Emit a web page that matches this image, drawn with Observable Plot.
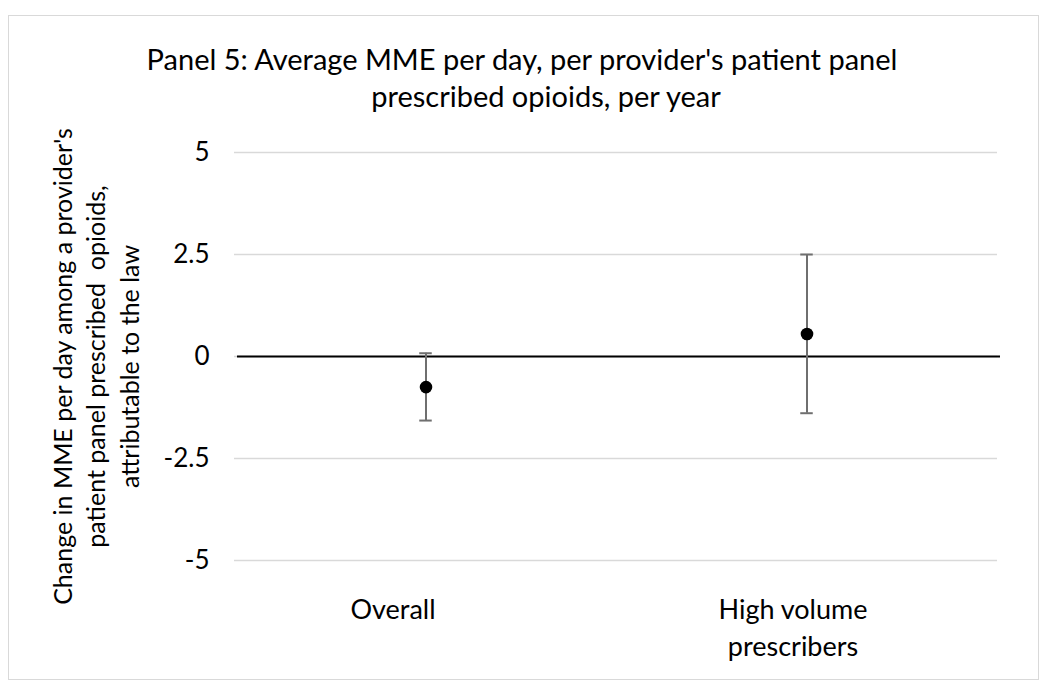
<!DOCTYPE html>
<html>
<head>
<meta charset="utf-8">
<script src="https://cdn.jsdelivr.net/npm/d3@7"></script>
<script src="https://cdn.jsdelivr.net/npm/@observablehq/plot@0.6"></script>
<style>
  html, body { margin: 0; padding: 0; background: #fff; }
  body { width: 1050px; height: 696px; position: relative; overflow: hidden; font-family: Lato, "Noto Sans", sans-serif; }
  #frame { position: absolute; left: 8px; top: 15px; width: 1031px; height: 665px; border: 1.5px solid #d9d9d9; box-sizing: border-box; }
  #chart { position: absolute; left: 0; top: 0; }
  #title { position: absolute; left: 22px; width: 1000px; top: 40px; text-align: center; font-size: 29px; line-height: 37px; color: #000; }
  #title .l2 { position: relative; left: 24px; }
</style>
</head>
<body>
<div id="frame"></div>
<div id="chart"></div>
<div id="title">Panel 5: Average MME per day, per provider's patient panel<br><span class="l2">prescribed opioids, per year</span></div>
<script>
const categories = ["Overall", "High volume prescribers"];
const categoryLabels = ["Overall", "High volume\nprescribers"];
const estimates = [-0.75, 0.55];
const lower = [-1.57, -1.39];
const upper = [0.08, 2.50];
const yTicks = [-5, -2.5, 0, 2.5, 5];
const yTitle = "Change in MME per day among a provider's\npatient panel prescribed  opioids,\nattributable to the law";

const data = categories.map((c, i) => ({cat: c, label: categoryLabels[i], est: estimates[i], lo: lower[i], hi: upper[i]}));

const W = 1050, H = 696;
const mL = 234, mR = 53, mT = 152, mB = 136;
const band = (W - mL - mR) / categories.length;
const capHalf = 6.5;
const capInset = band / 2 - capHalf;
const font = "Lato, 'Noto Sans', sans-serif";

const chart = Plot.plot({
  width: W,
  height: H,
  marginLeft: mL,
  marginRight: mR,
  marginTop: mT,
  marginBottom: mB,
  style: {background: "transparent", fontFamily: font, fontSize: "26px", color: "#000"},
  x: {type: "band", domain: categories, padding: 0, axis: null},
  y: {domain: [-5, 5], ticks: yTicks, tickFormat: d => String(d), tickSize: 0, tickPadding: 25, label: null},
  marks: [
    Plot.gridY(yTicks, {stroke: "#d9d9d9", strokeOpacity: 1, strokeWidth: 1.5}),
    Plot.axisY(yTicks, {tickSize: 0, tickPadding: 25, fontSize: 26, tickFormat: d => String(d), label: null}),
    Plot.ruleY([0], {stroke: "#000", strokeWidth: 2, insetLeft: 3, insetRight: -3}),
    Plot.ruleX(data, {x: "cat", y1: "lo", y2: "hi", stroke: "#6f6f6f", strokeWidth: 2}),
    Plot.tickY(data, {x: "cat", y: "lo", stroke: "#6f6f6f", strokeWidth: 2, insetLeft: capInset, insetRight: capInset}),
    Plot.tickY(data, {x: "cat", y: "hi", stroke: "#6f6f6f", strokeWidth: 2, insetLeft: capInset, insetRight: capInset}),
    Plot.dot(data, {x: "cat", y: "est", r: 6.3, fill: "#000", stroke: null}),
    Plot.text(data.filter(d => d.cat === categories[0]), {x: "cat", text: "label", frameAnchor: "bottom", lineAnchor: "top", dy: 32, dx: -33, fontSize: 27, lineHeight: 1.37, fill: "#000"}),
    Plot.text(data.filter(d => d.cat === categories[1]), {x: "cat", text: "label", frameAnchor: "bottom", lineAnchor: "top", dy: 32, dx: -14, fontSize: 27, lineHeight: 1.37, fill: "#000"}),
    Plot.text([yTitle], {frameAnchor: "left", rotate: -90, dx: -140, dy: 10, fontSize: 25, lineHeight: 1.34, fill: "#000", textAnchor: "middle", lineAnchor: "middle"})
  ]
});
document.getElementById("chart").appendChild(chart);
</script>
</body>
</html>
